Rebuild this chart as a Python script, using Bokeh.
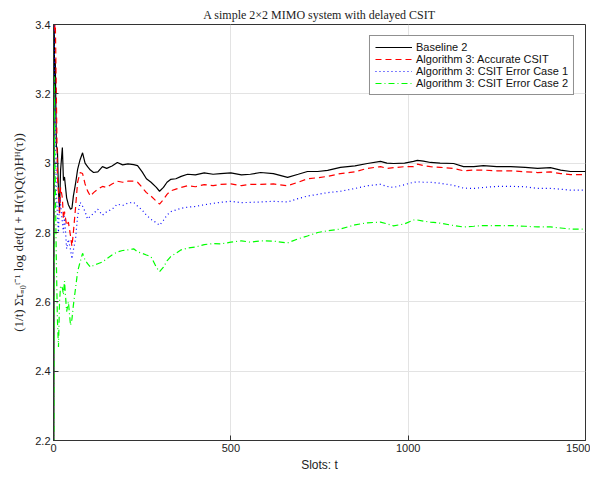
from bokeh.plotting import figure
from bokeh.models import FixedTicker, Legend, LegendItem
from bokeh.embed import file_html
from bokeh.resources import INLINE

slots = [1, 2, 3, 5, 8, 11, 14, 17, 20, 25, 28, 31, 37, 42, 48, 52, 56, 62, 68, 75,
         82, 89, 96, 104, 113, 125, 138, 150, 165, 180, 195, 210, 226, 237, 250, 262,
         275, 290, 299, 310, 320, 330, 345, 360, 378, 400, 425, 450, 471, 500, 530,
         555, 584, 620, 660, 690, 716, 745, 773, 809, 850, 885, 922, 940, 959, 990,
         1015, 1026, 1043, 1063, 1090, 1128, 1156, 1185, 1212, 1250, 1289, 1330, 1365,
         1401, 1430, 1458, 1480, 1500]

baseline2 = [2.10, 3.45, 3.20, 3.30, 3.05, 3.04, 2.92, 2.87, 2.98, 3.045, 2.95, 2.96, 2.90,
             2.88, 2.867, 2.87, 2.905, 2.94, 2.982, 3.01, 3.03, 3.00, 2.99, 2.98, 2.973,
             2.975, 2.99, 2.985, 2.992, 3.002, 2.995, 2.998, 2.996, 2.993, 2.975, 2.955,
             2.945, 2.93, 2.919, 2.93, 2.945, 2.953, 2.955, 2.962, 2.968, 2.966, 2.972,
             2.968, 2.970, 2.972, 2.966, 2.968, 2.973, 2.970, 2.959, 2.968, 2.976, 2.976,
             2.979, 2.988, 2.992, 2.999, 3.005, 3.0, 2.999, 3.0, 3.005, 3.008, 3.006,
             3.002, 3.0, 2.999, 2.990, 2.99, 2.993, 2.99, 2.990, 2.988, 2.985, 2.987,
             2.98, 2.976, 2.976, 2.976]

accurate = [3.6, 3.5, 3.38, 3.42, 3.2, 2.96, 2.92, 2.85, 2.93, 2.90, 2.84, 2.86, 2.82,
            2.83, 2.79, 2.76, 2.80, 2.87, 2.945, 2.973, 2.97, 2.94, 2.92, 2.905, 2.915,
            2.925, 2.933, 2.93, 2.94, 2.948, 2.945, 2.948, 2.948, 2.945, 2.93, 2.915,
            2.905, 2.89, 2.882, 2.895, 2.91, 2.92, 2.925, 2.93, 2.935, 2.932, 2.938,
            2.935, 2.939, 2.94, 2.935, 2.939, 2.939, 2.94, 2.935, 2.945, 2.955, 2.958,
            2.962, 2.97, 2.975, 2.985, 2.99, 2.985, 2.987, 2.99, 2.99, 2.997, 2.993,
            2.99, 2.988, 2.985, 2.978, 2.98, 2.98, 2.978, 2.978, 2.975, 2.973, 2.975,
            2.970, 2.967, 2.967, 2.967]

error_case1 = [3.5, 3.35, 3.25, 3.1, 2.92, 2.85, 2.80, 2.90, 2.88, 2.83, 2.80, 2.847, 2.753,
               2.78, 2.75, 2.724, 2.75, 2.78, 2.847, 2.887, 2.876, 2.86, 2.839, 2.847, 2.855,
               2.867, 2.85, 2.86, 2.867, 2.882, 2.878, 2.885, 2.887, 2.876, 2.865, 2.85,
               2.838, 2.828, 2.821, 2.835, 2.85, 2.86, 2.865, 2.87, 2.873, 2.875, 2.88,
               2.884, 2.887, 2.89, 2.886, 2.887, 2.888, 2.89, 2.888, 2.898, 2.905, 2.91,
               2.915, 2.919, 2.927, 2.935, 2.939, 2.933, 2.930, 2.938, 2.945, 2.946, 2.945,
               2.945, 2.942, 2.936, 2.928, 2.927, 2.93, 2.933, 2.933, 2.932, 2.927, 2.927,
               2.925, 2.922, 2.922, 2.922]

error_case2 = [2.0, 3.25, 3.05, 2.95, 2.72, 2.55, 2.47, 2.60, 2.647, 2.64, 2.62, 2.66, 2.572,
               2.60, 2.532, 2.55, 2.59, 2.638, 2.687, 2.715, 2.74, 2.72, 2.71, 2.70, 2.705,
               2.71, 2.715, 2.724, 2.735, 2.744, 2.748, 2.75, 2.753, 2.744, 2.74, 2.735,
               2.73, 2.70, 2.687, 2.70, 2.718, 2.73, 2.74, 2.75, 2.755, 2.758, 2.765, 2.768,
               2.767, 2.772, 2.776, 2.772, 2.776, 2.775, 2.770, 2.782, 2.790, 2.80, 2.805,
               2.810, 2.822, 2.828, 2.830, 2.825, 2.819, 2.825, 2.836, 2.836, 2.833, 2.830,
               2.827, 2.820, 2.816, 2.818, 2.82, 2.82, 2.82, 2.818, 2.816, 2.816, 2.813,
               2.81, 2.81, 2.81]

x_ticks = [0, 500, 1000, 1500]
y_ticks = [2.2, 2.4, 2.6, 2.8, 3.0, 3.2, 3.4]
y_tick_labels = ["2.2", "2.4", "2.6", "2.8", "3", "3.2", "3.4"]

series_names = ["Baseline 2", "Algorithm 3: Accurate CSIT",
                "Algorithm 3: CSIT Error Case 1", "Algorithm 3: CSIT Error Case 2"]

SANS = "Liberation Sans"
SERIF = "Liberation Serif"

p = figure(width=590, height=474, output_backend="svg", toolbar_location=None,
           x_range=(0, 1500), y_range=(2.2, 3.4),
           title="A simple 2\u00d72 MIMO system with delayed CSIT",
           min_border_left=53, min_border_right=5, min_border_top=24,
           min_border_bottom=10)

p.title.align = "center"
p.title.text_font = SERIF
p.title.text_font_style = "normal"
p.title.text_font_size = "12px"
p.title.text_color = "#222222"
p.title.offset = 0
p.title.standoff = 5

p.outline_line_color = "#333333"
p.outline_line_width = 1
p.background_fill_color = "white"
p.border_fill_color = "white"

for ax in (p.xaxis[0], p.yaxis[0]):
    ax.major_tick_in = 5
    ax.major_tick_out = 0
    ax.minor_tick_line_color = None
    ax.axis_line_color = "#333333"
    ax.major_tick_line_color = "#333333"
    ax.major_label_text_font = SANS
    ax.major_label_text_font_size = "11px"
    ax.major_label_text_color = "#222222"
    ax.axis_label_text_font_style = "normal"
    ax.axis_label_text_color = "#222222"

p.xaxis[0].ticker = FixedTicker(ticks=x_ticks)
p.yaxis[0].ticker = FixedTicker(ticks=y_ticks)
p.yaxis[0].major_label_overrides = {t: l for t, l in zip(y_ticks, y_tick_labels)}
p.xaxis[0].major_label_standoff = 3
p.yaxis[0].major_label_standoff = 3

p.xaxis[0].axis_label = "Slots: t"
p.xaxis[0].axis_label_text_font = SANS
p.xaxis[0].axis_label_text_font_size = "12px"
p.xaxis[0].axis_label_standoff = 3

p.yaxis[0].axis_label = "(1/t) \u03a3\u03c4\u208c\u2080\u1d57\u207b\u00b9 log det(I + H(\u03c4)Q(\u03c4)H\u1d34(\u03c4))"
p.yaxis[0].axis_label_text_font = SERIF
p.yaxis[0].axis_label_text_font_size = "13px"
p.yaxis[0].axis_label_standoff = 6

p.xgrid.ticker = FixedTicker(ticks=x_ticks)
p.ygrid.ticker = FixedTicker(ticks=y_ticks)
p.grid.grid_line_color = "#e3e3e3"
p.grid.grid_line_width = 1

r0 = p.line(slots, baseline2, line_color="black", line_width=1.2)
r1 = p.line(slots, accurate, line_color="red", line_width=1.2, line_dash="6 4")
r2 = p.line(slots, error_case1, line_color="blue", line_width=1.2, line_dash="1 3")
r3 = p.line(slots, error_case2, line_color="#00ff00", line_width=1.2, line_dash="6 3 1 3")

legend = Legend(items=[LegendItem(label=n, renderers=[r]) for n, r in
                       zip(series_names, [r0, r1, r2, r3])],
                location="top_right")
legend.label_text_font = SANS
legend.label_text_font_size = "11px"
legend.label_text_color = "#111111"
legend.label_height = 10
legend.glyph_height = 10
legend.glyph_width = 37
legend.spacing = 0
legend.padding = 5
legend.margin = 11
legend.label_standoff = 4
legend.border_line_color = "#222222"
legend.border_line_width = 1
legend.background_fill_alpha = 1
p.add_layout(legend, "center")

open("out.html", "w").write(file_html(p, INLINE))
